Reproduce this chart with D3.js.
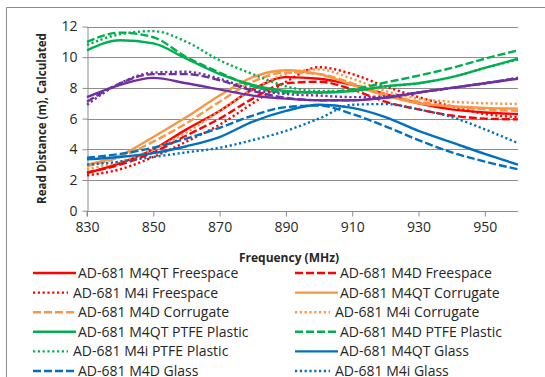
<!DOCTYPE html>
<html>
<head>
<meta charset="utf-8">
<script src="https://cdn.jsdelivr.net/npm/d3@7"></script>
<style>
  body { margin: 0; background: #fff; }
  svg text { font-family: "Open Sans", "Liberation Sans", sans-serif; fill: #262626; }
</style>
</head>
<body>
<svg id="chart" width="545" height="377"></svg>
<script>
const freqs = [830, 840, 850, 860, 870, 880, 890, 900, 910, 920, 930, 940, 950, 960];
const xTicks = [830, 850, 870, 890, 910, 930, 950];
const yTicks = [0, 2, 4, 6, 8, 10, 12];

const m4qtFreespace = [2.45, 3.1, 4.0, 5.3, 6.5, 7.9, 8.7, 8.6, 8.2, 7.6, 7.0, 6.6, 6.4, 6.3];
const m4dFreespace  = [2.5, 3.0, 3.8, 4.9, 6.0, 7.3, 8.3, 8.4, 7.9, 7.1, 6.6, 6.2, 6.0, 5.95];
const m4iFreespace  = [2.3, 2.7, 3.5, 4.5, 5.6, 7.0, 8.4, 9.35, 8.9, 8.1, 7.4, 6.8, 6.3, 6.1];
const m4qtCorrugate = [3.0, 3.6, 4.8, 6.1, 7.5, 8.7, 9.15, 8.9, 8.2, 7.5, 7.0, 6.8, 6.7, 6.65];
const m4dCorrugate  = [2.9, 3.5, 4.5, 5.7, 7.1, 8.4, 9.0, 8.9, 8.3, 7.6, 7.1, 6.8, 6.6, 6.5];
const m4iCorrugate  = [2.7, 3.2, 4.0, 5.1, 6.5, 7.9, 8.9, 9.2, 8.6, 7.8, 7.3, 7.1, 7.0, 6.95];
const m4qtPtfe = [10.45, 11.1, 10.9, 9.9, 8.9, 8.2, 7.8, 7.7, 7.8, 8.1, 8.3, 8.7, 9.3, 9.9];
const m4dPtfe  = [11.0, 11.6, 11.3, 10.0, 9.0, 8.1, 7.7, 7.7, 7.9, 8.35, 8.8, 9.3, 9.9, 10.45];
const m4iPtfe  = [10.8, 11.5, 11.7, 11.0, 9.8, 8.9, 8.1, 7.8, 7.8, 8.1, 8.3, 8.7, 9.3, 9.85];
const m4qtGlass = [3.35, 3.5, 3.75, 4.2, 4.8, 5.8, 6.5, 6.9, 6.7, 6.1, 5.2, 4.45, 3.7, 3.0];
const m4dGlass  = [3.45, 3.7, 4.1, 4.7, 5.4, 6.2, 6.75, 6.85, 6.3, 5.5, 4.6, 3.8, 3.2, 2.7];
const m4iGlass  = [3.0, 3.2, 3.5, 3.8, 4.1, 4.6, 5.2, 6.0, 6.9, 6.95, 6.6, 6.1, 5.3, 4.4];
const m4qtWood = [7.4, 8.2, 8.65, 8.3, 7.9, 7.5, 7.3, 7.2, 7.2, 7.35, 7.7, 8.0, 8.3, 8.6];
const m4dWood  = [7.1, 8.3, 8.9, 8.9, 8.5, 7.8, 7.35, 7.2, 7.2, 7.4, 7.7, 8.0, 8.3, 8.65];
const m4iWood  = [6.9, 8.3, 9.0, 9.05, 8.6, 7.9, 7.6, 7.5, 7.4, 7.45, 7.7, 8.0, 8.3, 8.65];

const seriesNames = [
  'AD-681 M4QT Freespace', 'AD-681 M4D Freespace', 'AD-681 M4i Freespace',
  'AD-681 M4QT Corrugate', 'AD-681 M4D Corrugate', 'AD-681 M4i Corrugate',
  'AD-681 M4QT PTFE Plastic', 'AD-681 M4D PTFE Plastic', 'AD-681 M4i PTFE Plastic',
  'AD-681 M4QT Glass', 'AD-681 M4D Glass', 'AD-681 M4i Glass',
  'AD-681 M4QT Wood', 'AD-681 M4D Wood', 'AD-681 M4i Wood'
];
const seriesValues = [
  m4qtFreespace, m4dFreespace, m4iFreespace,
  m4qtCorrugate, m4dCorrugate, m4iCorrugate,
  m4qtPtfe, m4dPtfe, m4iPtfe,
  m4qtGlass, m4dGlass, m4iGlass,
  m4qtWood, m4dWood, m4iWood
];

const colors = ['#ff0000', '#f79646', '#00b050', '#0070c0', '#7030a0'];
const dashes = [null, '8,3', '2.2,2.6'];

const series = seriesNames.map((name, i) => ({
  name: name,
  values: seriesValues[i],
  color: colors[Math.floor(i / 3)],
  dash: dashes[i % 3],
  dotted: i % 3 === 2
}));

const svg = d3.select('#chart');
const margin = {top: 26.5, left: 87, right: 27};
const width = 545, height = 377;
const plotBottom = 210.7;

// outer chart border
svg.append('path')
  .attr('d', 'M6.5,' + height + 'V7.5H' + width)
  .attr('fill', 'none')
  .attr('stroke', '#8c8c8c')
  .attr('stroke-width', 1);

const x = d3.scaleLinear().domain([830, 960]).range([margin.left, width - margin.right]);
const y = d3.scaleLinear().domain([0, 12]).range([plotBottom, margin.top]);

// gridlines
svg.append('g')
  .selectAll('line')
  .data(yTicks.slice(1))
  .join('line')
  .attr('x1', x(830)).attr('x2', x(960))
  .attr('y1', d => Math.round(y(d)) + 0.5).attr('y2', d => Math.round(y(d)) + 0.5)
  .attr('stroke', '#8c8c8c');

const xAxis = svg.append('g')
  .attr('transform', `translate(0,${Math.round(plotBottom) + 0.5})`)
  .call(d3.axisBottom(x).tickValues(xTicks).tickSize(5).tickSizeOuter(0).tickPadding(6));

const yAxis = svg.append('g')
  .attr('transform', `translate(${margin.left + 0.5},0)`)
  .call(d3.axisLeft(y).tickValues(yTicks).tickSize(5).tickSizeOuter(0).tickPadding(5));

[xAxis, yAxis].forEach(g => {
  g.select('.domain').attr('stroke', '#8c8c8c');
  g.selectAll('.tick line').attr('stroke', '#8c8c8c');
  g.selectAll('.tick text').style('font-size', '14px').attr('fill', '#262626');
});
// x axis: line spans the full plot width
xAxis.select('.domain').attr('d', `M${x(830)},5V0H${x(960)}`);

const line = d3.line()
  .x((d, i) => x(freqs[i]))
  .y(d => y(d))
  .curve(d3.curveMonotoneX);

svg.append('g')
  .selectAll('path')
  .data(series)
  .join('path')
  .attr('d', d => line(d.values))
  .attr('fill', 'none')
  .attr('stroke', d => d.color)
  .attr('stroke-width', 2.4)
  .attr('stroke-dasharray', d => d.dash);

// axis titles
svg.append('text')
  .attr('transform', `translate(46,${(plotBottom + margin.top) / 2}) rotate(-90)`)
  .attr('text-anchor', 'middle')
  .style('font-size', '11.5px')
  .style('font-weight', 'bold')
  .text('Read Distance (m), Calculated');

svg.append('text')
  .attr('x', 289)
  .attr('y', 262)
  .attr('text-anchor', 'middle')
  .style('font-size', '12px')
  .style('font-weight', 'bold')
  .text('Frequency (MHz)');

// legend, two columns
const legend = svg.append('g')
  .selectAll('g')
  .data(series)
  .join('g')
  .attr('transform', (d, i) => `translate(${i % 2 === 0 ? 33 : 295},${273 + Math.floor(i / 2) * 19.6})`);

legend.append('line')
  .attr('x1', 0).attr('x2', d => d.dotted ? 35 : 43)
  .attr('y1', 0).attr('y2', 0)
  .attr('stroke', d => d.color)
  .attr('stroke-width', 2.4)
  .attr('stroke-dasharray', d => d.dash);

legend.append('text')
  .attr('x', d => d.dotted ? 40 : 45)
  .attr('y', 5)
  .style('font-size', '14px')
  .text(d => d.name);
</script>
</body>
</html>
